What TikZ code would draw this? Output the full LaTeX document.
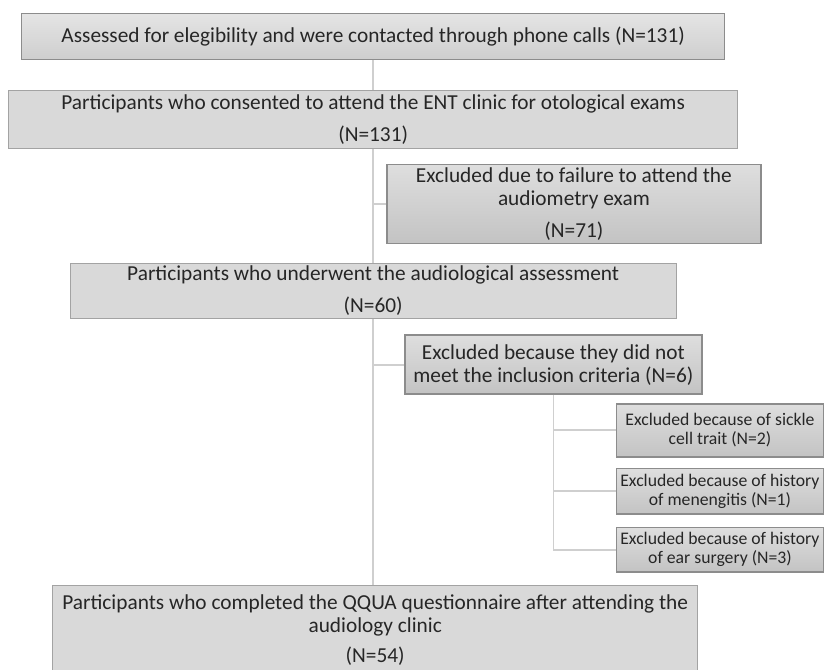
\documentclass[tikz,border=0pt]{standalone}
\usepackage{fontspec}
\setmainfont{Carlito}
\usepackage{xcolor}
\usepackage{tikz}
\usetikzlibrary{positioning,calc}

\definecolor{boxfill}{HTML}{D9D9D9}
\definecolor{boxline}{HTML}{A3A3A3}
\definecolor{excltop}{HTML}{DEDEDE}
\definecolor{exclbot}{HTML}{C3C3C3}
\definecolor{exclline}{HTML}{8C8C8C}
\definecolor{linkgray}{HTML}{CFCFCF}
\definecolor{txtgray}{HTML}{262626}

\begin{document}
\begin{tikzpicture}[
    node distance=1cm,
    mainbox/.style={draw=boxline, fill=boxfill, line width=0.8pt, align=center, inner sep=2pt, text=txtgray, font=\fontsize{18.2}{19.6}\selectfont},
    exclbox/.style={draw=exclline, top color=excltop, bottom color=exclbot, line width=1.2pt, align=center, inner sep=2pt, text=txtgray, font=\fontsize{18.2}{19.6}\selectfont},
    smallbox/.style={exclbox, minimum width=6.21cm, inner sep=1pt, font=\fontsize{15.1}{16.2}\selectfont},
    link/.style={draw=linkgray, line width=1.5pt}
]
\useasboundingbox (0,0) rectangle (24.72,-20.07);

% Assessed
\node[mainbox, top color=excltop!80!white, bottom color=boxfill!95!black, draw=exclline, minimum width=21.09cm, minimum height=1.38cm] (assessed) at (11.196,-1.089) {Assessed for elegibility and were contacted through phone calls (N=131)};

% Consented
\node[mainbox, below=0.9cm of assessed, minimum width=21.86cm, minimum height=1.75cm] (consented) {Participants who consented to attend the ENT clinic for otological exams\\[7.7pt](N=131)};

% Excluded (N=71)
\node[exclbox, below right=0.45cm and 0.39cm of consented.south, minimum width=11.22cm, minimum height=2.37cm] (noshow) {Excluded due to failure to attend the\\audiometry exam\\[8pt](N=71)};

% Audiological assessment
\node[mainbox, below=3.42cm of consented, minimum width=18.18cm, minimum height=1.58cm] (underwent) {Participants who underwent the audiological assessment\\[8pt](N=60)};

% Excluded (N=6)
\node[exclbox, below right=0.47cm and 0.93cm of underwent.south, minimum width=8.91cm, minimum height=1.77cm] (criteria) {Excluded because they did not\\meet the inclusion criteria (N=6)};

% Reasons
\node[smallbox, below right=0.25cm and 1.87cm of criteria.south, minimum height=1.59cm] (sickle) {Excluded because of sickle\\cell trait (N=2)};
\node[smallbox, below=0.31cm of sickle, minimum height=1.36cm] (meningitis) {Excluded because of history\\of menengitis (N=1)};
\node[smallbox, below=0.37cm of meningitis, minimum height=1.33cm] (surgery) {Excluded because of history\\of ear surgery (N=3)};

% Questionnaire
\node[mainbox, below=7.99cm of underwent, xshift=0.06cm, minimum width=19.36cm, minimum height=2.66cm] (completed) {Participants who completed the QQUA questionnaire after attending the\\audiology clinic\\[6pt](N=54)};

% Lines
\draw[link] (assessed.south) -- (assessed.south |- consented.north);
\draw[link] (consented.south) -- (consented.south |- underwent.north);
\draw[link] (consented.south |- noshow.west) -- (noshow.west);
\draw[link] (underwent.south) -- (underwent.south |- completed.north);
\draw[link] (underwent.south |- criteria.west) -- (criteria.west);
\draw[link] (criteria.south) |- (surgery.west);
\draw[link] (criteria.south |- sickle.west) -- (sickle.west);
\draw[link] (criteria.south |- meningitis.west) -- (meningitis.west);

\end{tikzpicture}
\end{document}
